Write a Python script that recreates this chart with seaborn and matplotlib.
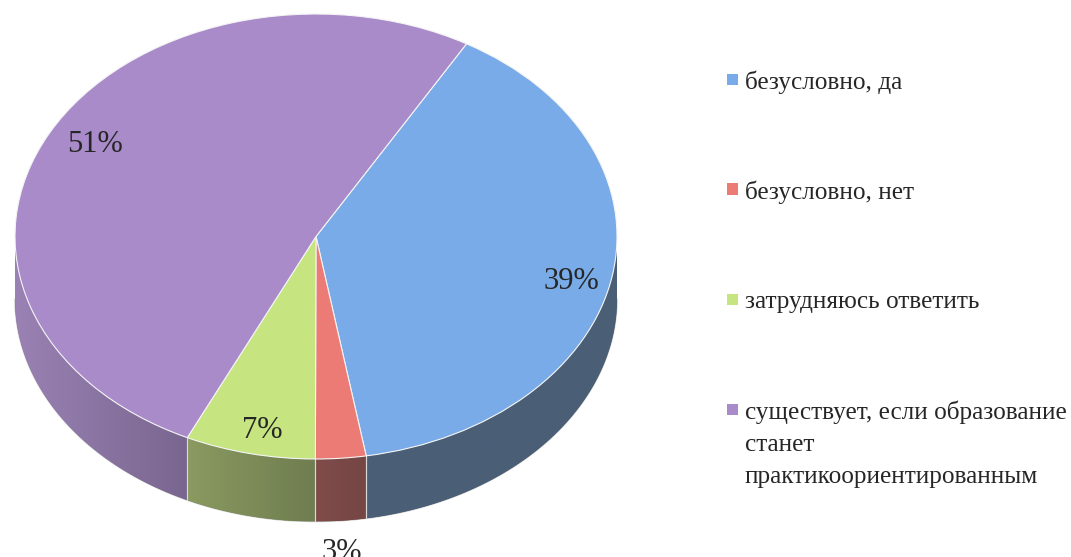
import numpy as np
import seaborn as sns
import matplotlib.pyplot as plt
from matplotlib.patches import Rectangle

sns.set_theme(style="white")
plt.rcParams['font.family'] = ['Liberation Serif', 'DejaVu Serif']

categories = ["безусловно, да", "безусловно, нет", "затрудняюсь ответить",
              "существует, если образование\nстанет\nпрактикоориентированным"]
values = [39.0, 2.7, 7.0, 51.3]
colors = sns.color_palette(["#78abe8", "#ec7a75", "#c6e480", "#a98bca"])
wall_left = ["#4a5e76", "#804c4a", "#8a9a60", "#9a82b4"]
wall_right = ["#4a5e76", "#744644", "#6f7d50", "#79668f"]

# pixel geometry of the top ellipse
W, H = 1071, 557
cx, cy, rx, ry = 316, 236.5, 301, 222.5
depth = 62.5 / ry
start = 30.0  # degrees clockwise from 12 o'clock

fig = plt.figure(figsize=(W / 100, H / 100), dpi=100)
ax = fig.add_axes([0, 0, 1, 1])

wedges, _ = ax.pie(values, colors=colors, startangle=90 - start, counterclock=False,
                   radius=1, wedgeprops={"edgecolor": "#f4f4f4", "linewidth": 0.8, "zorder": 5})

# side wall, one gradient image per slice clipped to the slice's front face
edges = start + np.cumsum([0] + values) * 3.6
for i in range(len(values)):
    a0, a1 = max(edges[i], 90), min(edges[i + 1], 270)
    if a1 <= a0:
        continue
    ang = np.linspace(a0, a1, 120)
    x = np.sin(np.radians(ang))
    y = np.cos(np.radians(ang))
    face = ax.fill(np.r_[x, x[::-1]], np.r_[y, y[::-1] - depth], color=wall_right[i],
                   linewidth=0, zorder=2)[0]
    ramp = np.linspace(0, 1, 256)[None, :, None]
    c0 = np.array(sns.color_palette([wall_left[i]])[0])
    c1 = np.array(sns.color_palette([wall_right[i]])[0])
    grad = ax.imshow(c0 + (c1 - c0) * ramp, aspect="auto", zorder=3, interpolation="bilinear",
                     extent=(x.min(), x.max(), y.min() - depth, y.max()))
    grad.set_clip_path(face)
    ax.plot(x, y - depth, color="#c8c8c8", lw=1.0, zorder=1)
    for xe, ye in [(x[0], y[0]), (x[-1], y[-1])]:
        if ye < -0.01 and abs(xe) < 0.99:
            ax.plot([xe, xe], [ye, ye - depth], color="#d8d8d8", lw=0.8, zorder=4)

ax.set_aspect("auto")
ax.set_xlim(-cx / rx, (W - cx) / rx)
ax.set_ylim((cy - H) / ry, cy / ry)

# percent labels
label_px = [(571, 282), (342, 552), (262, 430), (95, 145)]
for v, (px, py) in zip(values, label_px):
    fig.text(px / W, 1 - py / H, f"{round(v)}%", fontsize=22, color="#262626",
             ha="center", va="center", zorder=10)

# legend
legend_y = [79.5, 189, 299.5, 409]
for name, col, py in zip(categories, colors, legend_y):
    fig.add_artist(Rectangle((727 / W, 1 - (py + 5.5) / H), 11 / W, 11 / H, transform=fig.transFigure,
                             facecolor=col, edgecolor="none"))
    fig.text(745 / W, 1 - (py - 8.5) / H, name, fontsize=18.2, color="#262626",
             ha="left", va="top", linespacing=1.6)

fig.savefig("out.png", dpi=100)
